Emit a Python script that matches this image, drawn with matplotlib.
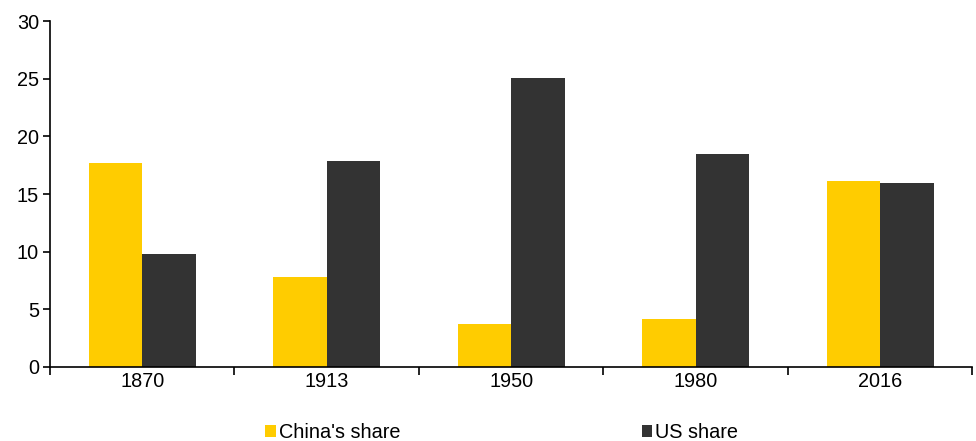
import numpy as np
import matplotlib
matplotlib.use("Agg")
from matplotlib import pyplot as plt

plt.rcParams['font.family'] = ['Liberation Sans', 'DejaVu Sans']

YEARS = ['1870', '1913', '1950', '1980', '2016']
CHINA_SHARE = [17.7, 7.8, 3.7, 4.2, 16.1]
US_SHARE = [9.8, 17.9, 25.1, 18.5, 16.0]

YELLOW = '#FFCC00'
DARK = '#333333'

fig = plt.figure(figsize=(9.76, 4.41), dpi=100)
ax = fig.add_axes([0.0512, 0.168, 0.945, 0.784])

x = np.arange(len(YEARS))
w = 0.29
ax.bar(x - w / 2, CHINA_SHARE, width=w, color=YELLOW, label="China's share")
ax.bar(x + w / 2, US_SHARE, width=w, color=DARK, label='US share')

ax.set_xlim(-0.5, len(YEARS) - 0.5)
ax.set_ylim(0, 30)
ax.set_yticks(range(0, 31, 5))
ax.set_xticks(x)
ax.set_xticklabels(YEARS)
ax.set_xticks(np.arange(len(YEARS) + 1) - 0.5, minor=True)
ax.tick_params(axis='x', which='major', length=0, pad=4, labelsize=14.3)
ax.tick_params(axis='x', which='minor', length=6, width=1.2, direction='out')
ax.tick_params(axis='y', length=5, width=1.2, labelsize=14.3, pad=3)

for s in ['top', 'right']:
    ax.spines[s].set_visible(False)
for s in ['left', 'bottom']:
    ax.spines[s].set_linewidth(1.2)

fig.legend(loc='lower left', bbox_to_anchor=(0.253, -0.043), ncol=2, frameon=False,
           fontsize=14.3, handlelength=0.55, handleheight=0.55, handletextpad=0.15,
           columnspacing=12.15)

fig.savefig('out.png', dpi=100)
